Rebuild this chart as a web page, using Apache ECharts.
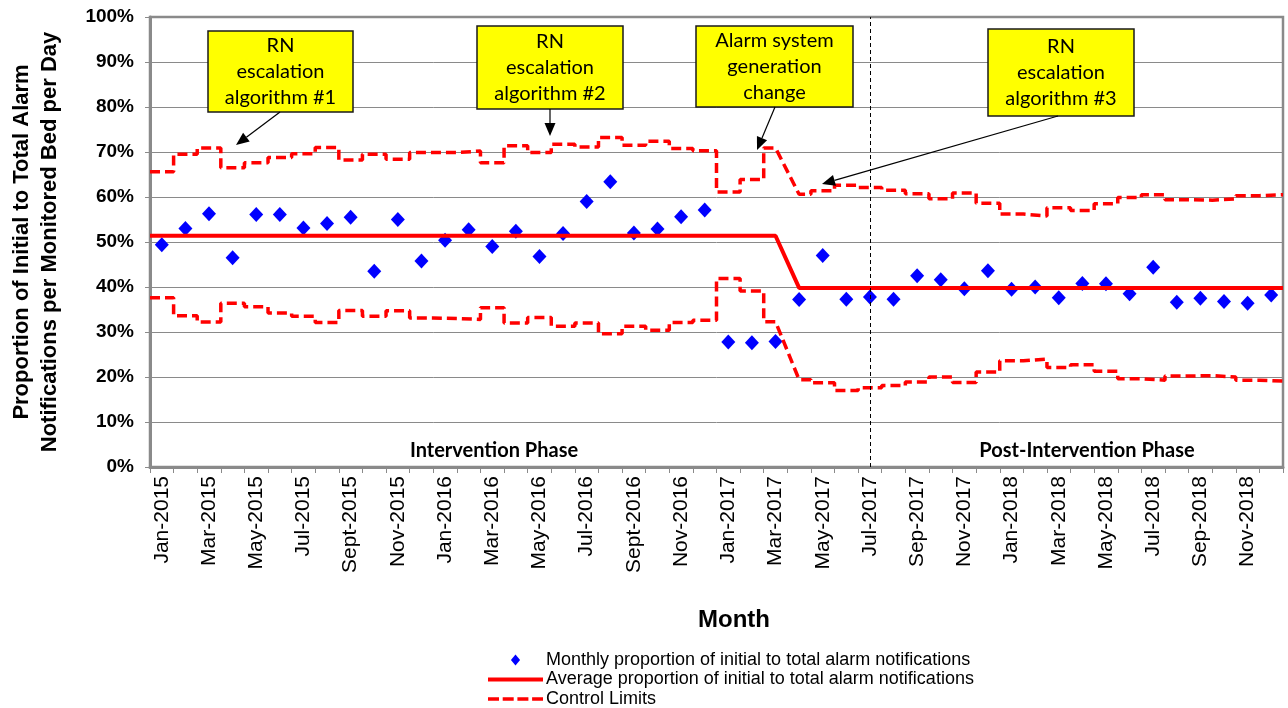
<!DOCTYPE html>
<html>
<head>
<meta charset="utf-8">
<script src="https://cdn.jsdelivr.net/npm/echarts@6/dist/echarts.min.js"></script>
<style>
html,body{margin:0;padding:0;background:#fff;}
#chart{width:1288px;height:708px;}
</style>
</head>
<body>
<div id="chart"></div>
<script>
// ---- Data ----
const categories = [
  'Jan-2015','Feb-2015','Mar-2015','Apr-2015','May-2015','Jun-2015','Jul-2015','Aug-2015','Sept-2015','Oct-2015','Nov-2015','Dec-2015',
  'Jan-2016','Feb-2016','Mar-2016','Apr-2016','May-2016','Jun-2016','Jul-2016','Aug-2016','Sept-2016','Oct-2016','Nov-2016','Dec-2016',
  'Jan-2017','Feb-2017','Mar-2017','Apr-2017','May-2017','Jun-2017','Jul-2017','Aug-2017','Sep-2017','Oct-2017','Nov-2017','Dec-2017',
  'Jan-2018','Feb-2018','Mar-2018','Apr-2018','May-2018','Jun-2018','Jul-2018','Aug-2018','Sep-2018','Oct-2018','Nov-2018','Dec-2018'
];
const monthlyProportion = [
  49.4,53.0,56.3,46.5,56.1,56.1,53.1,54.1,55.5,43.5,55.0,45.8,
  50.4,52.7,49.0,52.4,46.8,51.9,59.0,63.4,52.0,52.9,55.6,57.1,
  27.8,27.6,27.9,37.2,47.0,37.3,37.8,37.3,42.5,41.6,39.6,43.6,
  39.5,40.0,37.6,40.8,40.7,38.5,44.4,36.6,37.5,36.8,36.4,38.2
];
const averageProportion = [
  51.4,51.4,51.4,51.4,51.4,51.4,51.4,51.4,51.4,51.4,51.4,51.4,
  51.4,51.4,51.4,51.4,51.4,51.4,51.4,51.4,51.4,51.4,51.4,51.4,
  51.4,51.4,51.4,39.8,39.8,39.8,39.8,39.8,39.8,39.8,39.8,39.8,
  39.8,39.8,39.8,39.8,39.8,39.8,39.8,39.8,39.8,39.8,39.8,39.8
];
const upperControlLimit = [
  65.6,69.5,70.9,66.5,67.6,68.8,69.6,71.0,68.2,69.5,68.4,69.9,
  69.9,70.2,67.6,71.4,69.9,71.7,71.1,73.2,71.5,72.4,70.8,70.3,
  61.1,63.9,70.9,60.6,61.4,62.6,62.1,61.5,60.7,59.6,60.9,58.6,
  56.2,55.8,57.6,57.0,58.5,59.9,60.5,59.4,59.3,59.6,60.3,60.5
];
const lowerControlLimit = [
  37.6,33.6,32.2,36.4,35.6,34.2,33.5,32.1,34.8,33.5,34.7,33.1,
  33.0,32.8,35.4,32.0,33.2,31.3,32.0,29.6,31.3,30.4,32.1,32.6,
  41.9,39.1,32.3,19.4,18.7,17.0,17.6,18.1,18.9,20.0,18.8,21.1,
  23.6,24.0,22.1,22.7,21.3,19.6,19.3,20.2,20.3,20.0,19.3,19.1
];
const yTicks = [0,10,20,30,40,50,60,70,80,90,100];
const seriesNames = [
  'Monthly proportion of initial to total alarm notifications',
  'Average proportion of initial to total alarm notifications',
  'Control Limits'
];
const shiftMonth = 'Apr-2017';        // new system mean starts
const phaseBoundaryMonth = 'Jul-2017'; // dashed separator
const phaseLabels = ['Intervention Phase', 'Post-Intervention Phase'];
const annotations = [
  'RN\nescalation\nalgorithm #1',
  'RN\nescalation\nalgorithm #2',
  'Alarm system\ngeneration\nchange',
  'RN\nescalation\nalgorithm #3'
];

// ---- Build step series (flat per month, diagonal at the system shift) ----
const shiftIdx = categories.indexOf(shiftMonth);
function stepPoints(vals) {
  const pts = [];
  vals.forEach((v, i) => {
    const x0 = (i === shiftIdx) ? i : i - 0.5;
    const x1 = (i === shiftIdx - 1) ? i : i + 0.5;
    pts.push([x0, v], [x1, v]);
  });
  return pts;
}
const n = categories.length;

// ---- Annotation geometry (pixels) ----
const boxes = [
  {x:208, y:31, w:145, h:81, ax1:280, ay1:112, ax2:236, ay2:145},
  {x:477, y:26, w:146, h:83, ax1:550, ay1:109, ax2:550, ay2:136},
  {x:696, y:26, w:157, h:81, ax1:775, ay1:107, ax2:757, ay2:150},
  {x:988, y:29, w:146, h:87, ax1:1058, ay1:116, ax2:822, ay2:184}
];
const graphics = [];
boxes.forEach((b, k) => {
  graphics.push({type:'rect', shape:{x:b.x, y:b.y, width:b.w, height:b.h},
    style:{fill:'#FFFF00', stroke:'#1a1a1a', lineWidth:1.5}, z:100});
  graphics.push({type:'text', x:b.x + b.w/2, y:b.y + b.h/2 + 0.5, z:101,
    style:{text:annotations[k], fill:'#000', font:'20px Lato', lineHeight:26,
      align:'center', verticalAlign:'middle'}});
  const ang = Math.atan2(b.ay2 - b.ay1, b.ax2 - b.ax1);
  const L = 13, W = 5.5;
  const bx = b.ax2 - L*Math.cos(ang), by = b.ay2 - L*Math.sin(ang);
  graphics.push({type:'line', z:100, shape:{x1:b.ax1, y1:b.ay1, x2:bx, y2:by},
    style:{stroke:'#000', lineWidth:1.2}});
  graphics.push({type:'polygon', z:100, shape:{points:[
    [b.ax2, b.ay2],
    [bx + W*Math.sin(ang), by - W*Math.cos(ang)],
    [bx - W*Math.sin(ang), by + W*Math.cos(ang)]
  ]}, style:{fill:'#000'}});
});
graphics.push({type:'text', x:494, y:451, z:50, style:{text:phaseLabels[0], fill:'#000',
  font:'bold 20px Lato', align:'center', verticalAlign:'middle'}});
graphics.push({type:'text', x:1087, y:451, z:50, style:{text:phaseLabels[1], fill:'#000',
  font:'bold 20px Lato', align:'center', verticalAlign:'middle'}});
graphics.push({type:'text', x:734, y:620, style:{text:'Month', fill:'#000',
  font:'bold 24px "Liberation Sans", Arial', align:'center', verticalAlign:'middle'}});

const chart = echarts.init(document.getElementById('chart'));
chart.setOption({
  animation: false,
  backgroundColor: '#fff',
  grid: {left:150, top:17, width:1133, height:450, show:true, borderColor:'#8a8a8a', borderWidth:2.5,
    containLabel:false, outerBoundsMode:'none'},
  legend: {
    orient:'vertical', left:483, top:646, height:70, itemWidth:55, itemHeight:11, itemGap:1.5,
    symbolKeepAspect:true,
    textStyle:{fontSize:18, color:'#000', fontFamily:'"Liberation Sans", Arial', padding:[0,0,0,-2]},
    data: [
      {name:seriesNames[0], icon:'path://M5,0 L10,6 L5,12 L0,6 Z'},
      {name:seriesNames[1], icon:'path://M0,0 H55 V4 H0 Z'},
      {name:seriesNames[2], icon:'path://M0,0h11v3.5h-11z M14.7,0h11v3.5h-11z M29.4,0h11v3.5h-11z M44.1,0h10.9v3.5h-10.9z'}
    ]
  },
  xAxis: [{
    type:'category', data:categories, boundaryGap:true, gridIndex:0,
    axisLine:{show:true, onZero:false, lineStyle:{color:'#8a8a8a', width:3}},
    axisTick:{show:true, interval:0, length:6, lineStyle:{color:'#8a8a8a', width:1}},
    axisLabel:{interval:1, rotate:90, fontSize:21, color:'#000', margin:9,
      fontFamily:'"Liberation Sans", Arial'},
    splitLine:{show:false}
  },{
    type:'value', min:-0.5, max:n - 0.5, show:false, gridIndex:0
  }],
  yAxis: {
    type:'value', min:yTicks[0], max:yTicks[yTicks.length-1], interval:10,
    name:'Proportion of Initial to Total Alarm\nNotifications per Monitored Bed per Day',
    nameLocation:'middle', nameGap:86, nameRotate:90,
    nameTextStyle:{fontSize:22, fontWeight:'bold', color:'#000', lineHeight:28,
      fontFamily:'"Liberation Sans", Arial'},
    axisLine:{show:true, onZero:false, lineStyle:{color:'#8a8a8a', width:3}},
    axisTick:{show:true, length:5, lineStyle:{color:'#8a8a8a'}},
    axisLabel:{formatter:'{value}%', fontSize:19, fontWeight:'bold', color:'#000', margin:16,
      fontFamily:'"Liberation Sans", Arial'},
    splitLine:{show:true, lineStyle:{color:'#8a8a8a', width:1}}
  },
  graphic: graphics,
  series: [
    {
      name: seriesNames[0], type:'scatter', xAxisIndex:1,
      data: monthlyProportion.map((v,i) => [i, v]),
      symbol:'diamond', symbolSize:[14,15],
      itemStyle:{color:'#0000FF', opacity:1}, z:3
    },
    {
      name: seriesNames[1], type:'line', xAxisIndex:1,
      data: stepPoints(averageProportion), symbol:'none',
      lineStyle:{color:'#FF0000', width:4}, itemStyle:{color:'#FF0000'}, z:4
    },
    {
      name: seriesNames[2], type:'line', xAxisIndex:1,
      data: stepPoints(upperControlLimit), symbol:'none',
      lineStyle:{color:'#FF0000', width:3.5, type:[10,5]}, itemStyle:{color:'#FF0000'}, z:4,
      markLine:{
        silent:true, symbol:['none','none'], label:{show:false},
        lineStyle:{color:'#000', type:[4,3], width:1},
        data:[{xAxis: categories.indexOf(phaseBoundaryMonth)}]
      }
    },
    {
      name: seriesNames[2], type:'line', xAxisIndex:1,
      data: stepPoints(lowerControlLimit), symbol:'none',
      lineStyle:{color:'#FF0000', width:3.5, type:[10,5]}, itemStyle:{color:'#FF0000'}, z:4
    }
  ]
});
</script>
</body>
</html>
